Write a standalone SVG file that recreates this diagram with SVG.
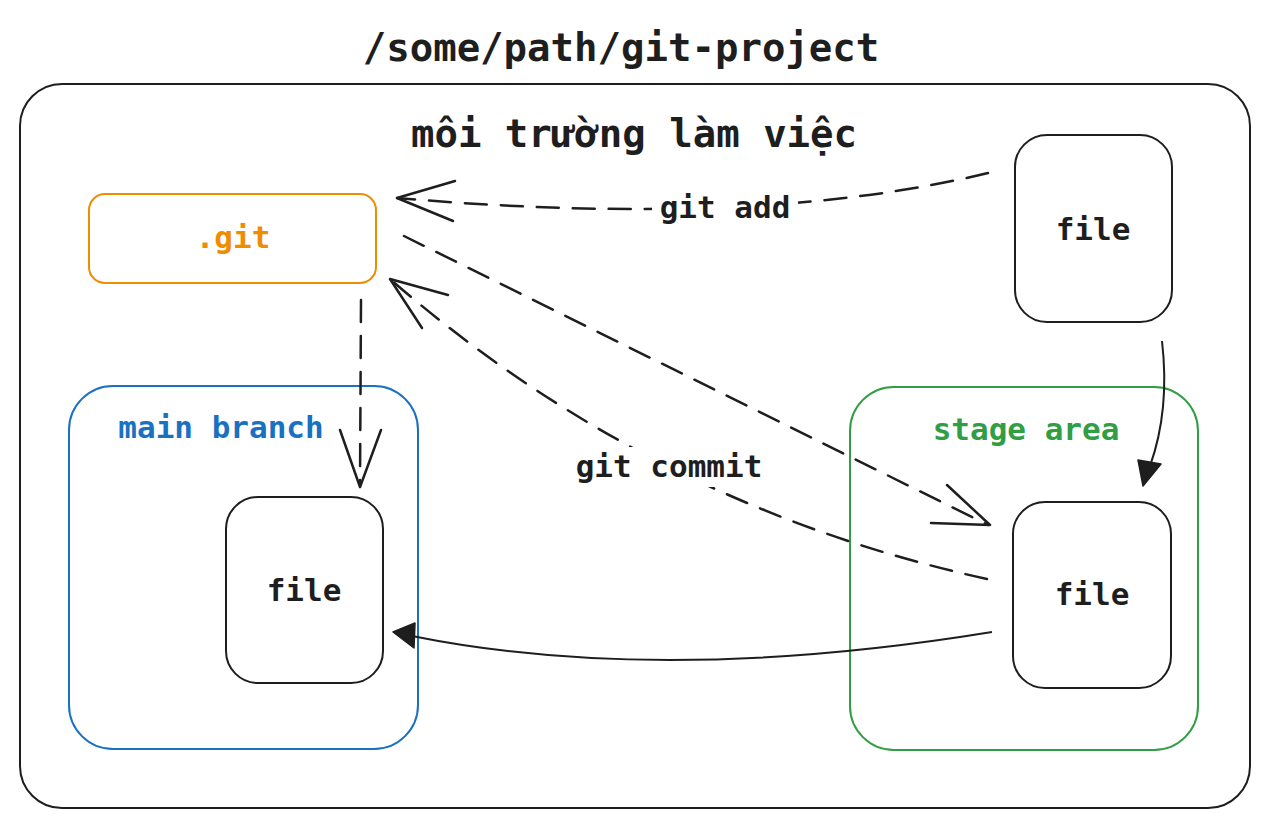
<svg xmlns="http://www.w3.org/2000/svg" width="1268" height="828" viewBox="0 0 1268 828">
<style>
.t{font-family:"DejaVu Sans Mono","Liberation Mono",monospace;font-weight:bold;text-anchor:middle;fill:#1e1e1e}
.big{font-size:39px}
.lab{font-size:31px}
.box{fill:none;stroke-width:2}
.dash{fill:none;stroke:#1e1e1e;stroke-width:2.5;stroke-dasharray:22 14;stroke-linecap:round}
.head{fill:none;stroke:#1e1e1e;stroke-width:2.5;stroke-linecap:round;stroke-linejoin:round}
.solid{fill:none;stroke:#1e1e1e;stroke-width:2}
.tri{fill:#1e1e1e;stroke:#1e1e1e;stroke-width:1.5;stroke-linejoin:round}
</style>
<rect width="1268" height="828" fill="#ffffff"/>
<text class="t big" x="621" y="61">/some/path/git-project</text>
<g id="workspace">
<rect class="box" x="20" y="84" width="1230" height="724" rx="42" stroke="#1e1e1e"/>
<text class="t big" x="634" y="147">môi trường làm việc</text>
</g>
<g id="git">
<rect class="box" x="89" y="194" width="287" height="89" rx="16" stroke="#f08c00"/>
<text class="t lab" x="233" y="248" style="fill:#f08c00">.git</text>
</g>
<g id="file-work">
<rect class="box" x="1015" y="135" width="157" height="187" rx="32" stroke="#1e1e1e"/>
<text class="t lab" x="1093" y="240">file</text>
</g>
<g id="main-branch">
<rect class="box" x="69" y="386" width="349" height="363" rx="44" stroke="#1971c2"/>
<text class="t lab" x="221" y="438" style="fill:#1971c2">main branch</text>
</g>
<g id="file-main">
<rect class="box" x="226" y="497" width="157" height="186" rx="32" stroke="#1e1e1e"/>
<text class="t lab" x="304" y="601">file</text>
</g>
<g id="stage-area">
<rect class="box" x="850" y="387" width="348" height="363" rx="44" stroke="#2f9e44"/>
<text class="t lab" x="1026" y="440" style="fill:#2f9e44">stage area</text>
</g>
<g id="file-stage">
<rect class="box" x="1013" y="502" width="158" height="186" rx="32" stroke="#1e1e1e"/>
<text class="t lab" x="1092" y="605">file</text>
</g>
<g id="connectors">
<path class="dash" d="M988,173 Q757,229 397,198"/>
<path class="head" d="M455,181 L397,198 L453,221"/>
<rect x="652" y="188" width="146" height="38" fill="#ffffff"/>
<text class="t lab" x="725" y="218">git add</text>
<path class="dash" d="M404,236 L988,525"/>
<path class="head" d="M947,485 L990,525 L931,523"/>
<path class="dash" d="M987,579 Q650,505 390,279"/>
<path class="head" d="M448,295 L390,279 L422,328"/>
<rect x="568" y="447" width="202" height="40" fill="#ffffff"/>
<text class="t lab" x="669" y="477">git commit</text>
<path class="dash" d="M361,300 L360,485"/>
<path class="head" d="M340,430 L360,487 L381,430"/>
<path class="solid" d="M1162,341 Q1170,410 1150,466"/>
<path class="tri" d="M1143,486 L1138,460 L1161,464 Z"/>
<path class="solid" d="M992,632 Q660,686 412,636"/>
<path class="tri" d="M393,632 L415,623 L414,648 Z"/>
</g>
</svg>
